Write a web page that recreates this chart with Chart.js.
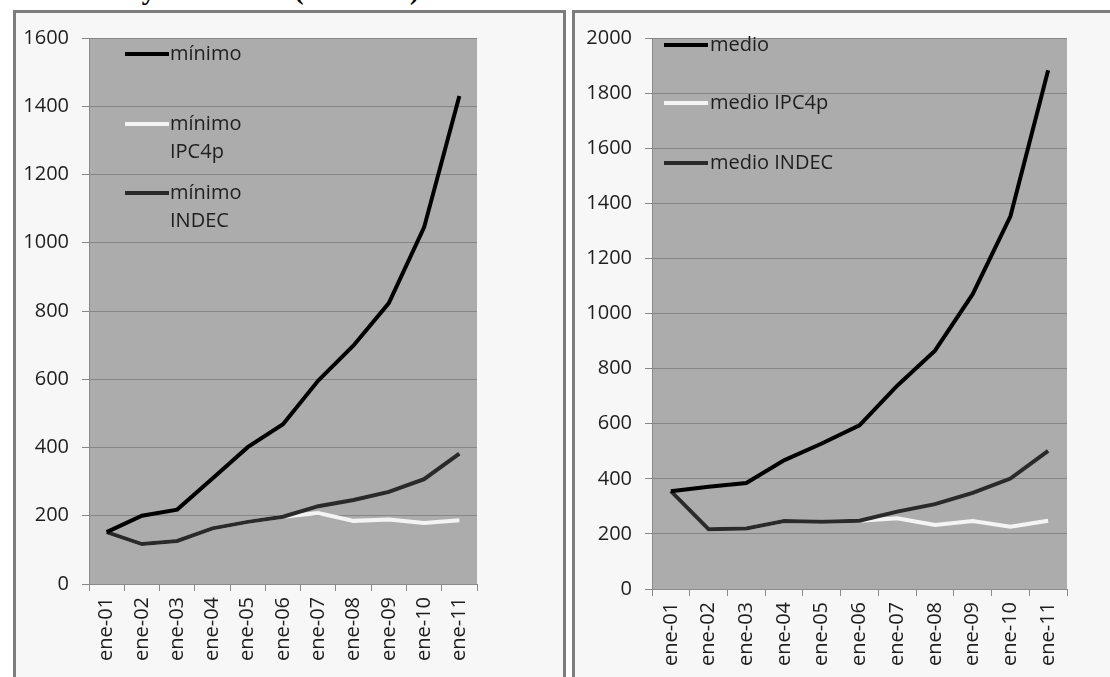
<!DOCTYPE html>
<html>
<head>
<meta charset="utf-8">
<script src="https://cdn.jsdelivr.net/npm/chart.js@4.4.1/dist/chart.umd.min.js"></script>
<style>
    html, body
    {
        margin: 0;
        padding: 0;
        background: #ffffff;
        width: 1110px;
        height: 677px;
        overflow: hidden;
        position: relative;
    }
    .title
    {
        position: absolute;
        left: 15px;
        top: -24px;
        font-family: 'Liberation Serif', serif;
        font-weight: bold;
        font-size: 28px;
        line-height: 28px;
        color: #000;
        white-space: nowrap;
    }
    .panel
    {
        position: absolute;
        top: 10px;
        height: 700px;
        box-sizing: border-box;
        border: 3px solid #7d7d7d;
        background: #f7f7f7;
    }
    #panelLeft { left: 13px; width: 553px; }
    #panelRight { left: 572px; width: 600px; }
    canvas { position: absolute; }
    #chartLeft { left: 16px; top: 13px; }
    #chartRight { left: 575px; top: 13px; }
    .leg
    {
        position: absolute;
        font-family: 'Open Sans', sans-serif;
        font-size: 20px;
        line-height: 28px;
        color: #1e1e1e;
        white-space: nowrap;
    }
    .legLine
    {
        position: absolute;
        height: 4px;
    }
</style>
</head>
<body>
<div class="title">corrientes y constantes (año 2001)</div>
<div class="panel" id="panelLeft"></div>
<div class="panel" id="panelRight"></div>
<canvas id="chartLeft" width="547" height="664" style="width:547px;height:664px"></canvas>
<canvas id="chartRight" width="535" height="664" style="width:535px;height:664px"></canvas>
<div id="legends"></div>
<script>
// categories
const years = ['ene-01', 'ene-02', 'ene-03', 'ene-04', 'ene-05', 'ene-06', 'ene-07', 'ene-08', 'ene-09', 'ene-10', 'ene-11'];

// left chart: salario mínimo
const minimoLabels = ['mínimo', 'mínimo IPC4p', 'mínimo INDEC'];
const minimo = [152, 200, 218, 309, 401, 468, 596, 699, 823, 1045, 1430];
const minimoIPC4p = [152, 117, 126, 163, 182, 197, 208, 185, 189, 179, 187];
const minimoINDEC = [152, 117, 126, 163, 182, 197, 228, 246, 270, 307, 382];
const minimoMax = 1600;

// right chart: salario medio
const medioLabels = ['medio', 'medio IPC4p', 'medio INDEC'];
const medio = [355, 371, 385, 467, 528, 594, 738, 865, 1070, 1353, 1883];
const medioIPC4p = [355, 217, 220, 247, 244, 248, 257, 232, 247, 226, 248];
const medioINDEC = [355, 217, 220, 247, 244, 248, 281, 308, 349, 401, 501];
const medioMax = 2000;

const lineColors = ['#000000', '#f4f4f4', '#2a2a2a'];
const lineOrder = [0, 2, 1]; // INDEC drawn over IPC4p

Chart.defaults.font.family = "'Open Sans', sans-serif";
Chart.defaults.font.size = 20;
Chart.defaults.color = '#1e1e1e';

const plotBackground =
{
    id: 'plotBackground',
    beforeDraw(chart)
    {
        const a = chart.chartArea;
        const ctx = chart.ctx;
        ctx.save();
        ctx.fillStyle = '#acacac';
        ctx.fillRect(a.left, a.top, a.right - a.left, a.bottom - a.top);
        ctx.restore();
    }
};

function makeChart(id, labels, series, maxY, yWidth, xHeight, padding)
{
    const datasets = series.map((values, i) =>
    ({
        label: labels[i],
        data: values,
        borderColor: lineColors[i],
        borderWidth: 4,
        tension: 0,
        pointRadius: 0,
        order: lineOrder[i]
    }));

    const config =
    {
        type: 'line',
        data:
        {
            labels: years,
            datasets: datasets
        },
        options:
        {
            responsive: false,
            animation: false,
            layout:
            {
                padding: padding
            },
            plugins:
            {
                legend: { display: false },
                tooltip: { enabled: false }
            },
            scales:
            {
                x:
                {
                    offset: true,
                    afterFit: (axis) => { axis.height = xHeight; },
                    border: { display: true, color: '#8a8a8a', width: 1 },
                    grid:
                    {
                        offset: true,
                        drawOnChartArea: false,
                        drawTicks: true,
                        tickLength: 7,
                        color: '#8a8a8a'
                    },
                    ticks:
                    {
                        autoSkip: false,
                        minRotation: 90,
                        maxRotation: 90,
                        padding: 6
                    }
                },
                y:
                {
                    min: 0,
                    max: maxY,
                    afterFit: (axis) => { axis.width = yWidth; },
                    border: { display: true, color: '#8a8a8a', width: 1 },
                    grid:
                    {
                        color: '#868686',
                        tickLength: 7
                    },
                    ticks:
                    {
                        stepSize: 200,
                        padding: 13,
                        callback: (v) => String(v)
                    }
                }
            }
        },
        plugins: [plotBackground]
    };

    return new Chart(document.getElementById(id).getContext('2d'), config);
}

makeChart('chartLeft', minimoLabels, [minimo, minimoIPC4p, minimoINDEC], minimoMax, 73, 93,
    { top: 24, right: 86, bottom: 0, left: 0 });
makeChart('chartRight', medioLabels, [medio, medioIPC4p, medioINDEC], medioMax, 77, 88,
    { top: 23, right: 43, bottom: 0, left: 0 });

// legends inside the plot areas, text wraps like the original
function addLegend(labels, lineX, lineW, rows, textX, wrap)
{
    const host = document.getElementById('legends');
    labels.forEach((text, i) =>
    {
        const line = document.createElement('div');
        line.className = 'legLine';
        line.style.left = lineX + 'px';
        line.style.width = lineW + 'px';
        line.style.top = (rows[i] - 2) + 'px';
        line.style.background = lineColors[i];
        host.appendChild(line);

        const t = document.createElement('div');
        t.className = 'leg';
        t.style.left = textX + 'px';
        t.style.top = (rows[i] - 15) + 'px';
        if (wrap && text.indexOf(' ') > 0)
        {
            const parts = text.split(' ');
            t.innerHTML = parts[0] + '<br>' + parts.slice(1).join(' ');
        }
        else
        {
            t.textContent = text;
        }
        host.appendChild(t);
    });
}

addLegend(minimoLabels, 125, 44, [54, 124, 193], 170, true);
addLegend(medioLabels, 664, 44, [45, 103, 163], 710, false);
</script>
</body>
</html>
